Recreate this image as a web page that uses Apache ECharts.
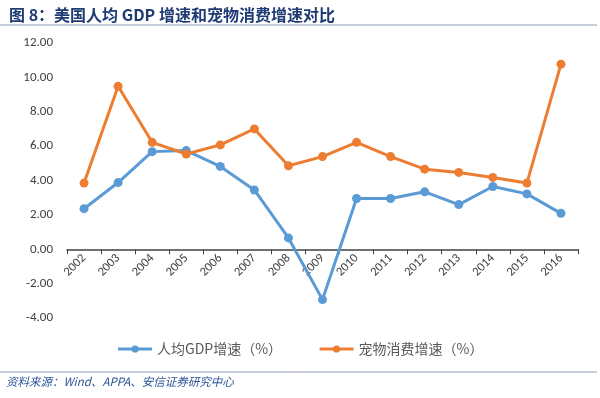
<!DOCTYPE html>
<html>
<head>
<meta charset="utf-8">
<script src="https://cdn.jsdelivr.net/npm/echarts@6/dist/echarts.min.js"></script>
<style>
  html, body { margin: 0; padding: 0; background: #fff; }
  #main { width: 600px; height: 398px; }
</style>
</head>
<body>
<div id="main"></div>
<script>
// data
var years = ['2002', '2003', '2004', '2005', '2006', '2007', '2008', '2009',
             '2010', '2011', '2012', '2013', '2014', '2015', '2016'];
var gdpGrowth = [2.36, 3.88, 5.68, 5.74, 4.82, 3.45, 0.66, -2.93,
                 2.95, 2.95, 3.34, 2.60, 3.65, 3.22, 2.09];
var petGrowth = [3.85, 9.48, 6.22, 5.54, 6.07, 7.00, 4.86, 5.39,
                 6.22, 5.39, 4.66, 4.47, 4.18, 3.85, 10.77];
var seriesNames = ['人均GDP增速（%）', '宠物消费增速（%）'];

var fontCn = '"Noto Sans CJK SC", "Noto Sans", sans-serif';
var yMin = -4, yMax = 12;
var gridTop = 43, gridBottom = 80, chartH = 398;
// move the x axis up to the zero line (labels too)
var plotH = chartH - gridTop - gridBottom;
var zeroOffset = -plotH * (0 - yMin) / (yMax - yMin);

var myChart = echarts.init(document.getElementById('main'));

var option = {
    backgroundColor: '#fff',
    animation: false,
    title: {
        text: '图 8：美国人均 GDP 增速和宠物消费增速对比',
        left: 4,
        top: 2,
        textStyle: {
            color: '#1f3b73',
            fontSize: 16,
            fontWeight: 'bold',
            fontFamily: fontCn
        }
    },
    graphic: [
        { type: 'line', shape: { x1: 0, y1: 25, x2: 597, y2: 25 },
          style: { stroke: '#8e9ab5', lineWidth: 1 } },
        { type: 'line', shape: { x1: 0, y1: 372, x2: 597, y2: 372 },
          style: { stroke: '#8e9ab5', lineWidth: 1 } },
        { type: 'text', left: 6, top: 376,
          style: { text: '资料来源：Wind、APPA、安信证券研究中心',
                   fill: '#2e5597', font: 'italic 11.5px ' + fontCn } }
    ],
    legend: {
        data: seriesNames,
        left: 'center',
        top: 337,
        itemWidth: 34,
        itemHeight: 9,
        itemGap: 36,
        lineStyle: { width: 3 },
        textStyle: { color: '#595959', fontSize: 14, fontFamily: fontCn }
    },
    grid: { left: 67, right: 22, top: gridTop, bottom: gridBottom },
    xAxis: {
        type: 'category',
        data: years,
        boundaryGap: true,
        offset: zeroOffset,
        axisLine: { onZero: false, lineStyle: { color: '#404040', width: 1.5 } },
        axisTick: { show: true, length: 5, lineStyle: { color: '#404040' } },
        axisLabel: { rotate: 45, color: '#404040', fontSize: 12.5, margin: 7,
                     fontFamily: 'Carlito, "Liberation Sans", sans-serif' }
    },
    yAxis: {
        type: 'value',
        min: yMin,
        max: yMax,
        interval: 2,
        axisLine: { show: false },
        axisTick: { show: false },
        splitLine: { show: false },
        axisLabel: {
            color: '#404040',
            fontSize: 13,
            margin: 14,
            fontFamily: 'Carlito, "Liberation Sans", sans-serif',
            formatter: function (v) { return v.toFixed(2); }
        }
    },
    series: [{
        name: seriesNames[0],
        type: 'line',
        data: gdpGrowth,
        symbol: 'circle',
        symbolSize: 9,
        itemStyle: { color: '#5b9bd5' },
        lineStyle: { color: '#5b9bd5', width: 3 }
    }, {
        name: seriesNames[1],
        type: 'line',
        data: petGrowth,
        symbol: 'circle',
        symbolSize: 9,
        itemStyle: { color: '#ed7d31' },
        lineStyle: { color: '#ed7d31', width: 3 }
    }]
};
myChart.setOption(option);
</script>
</body>
</html>
